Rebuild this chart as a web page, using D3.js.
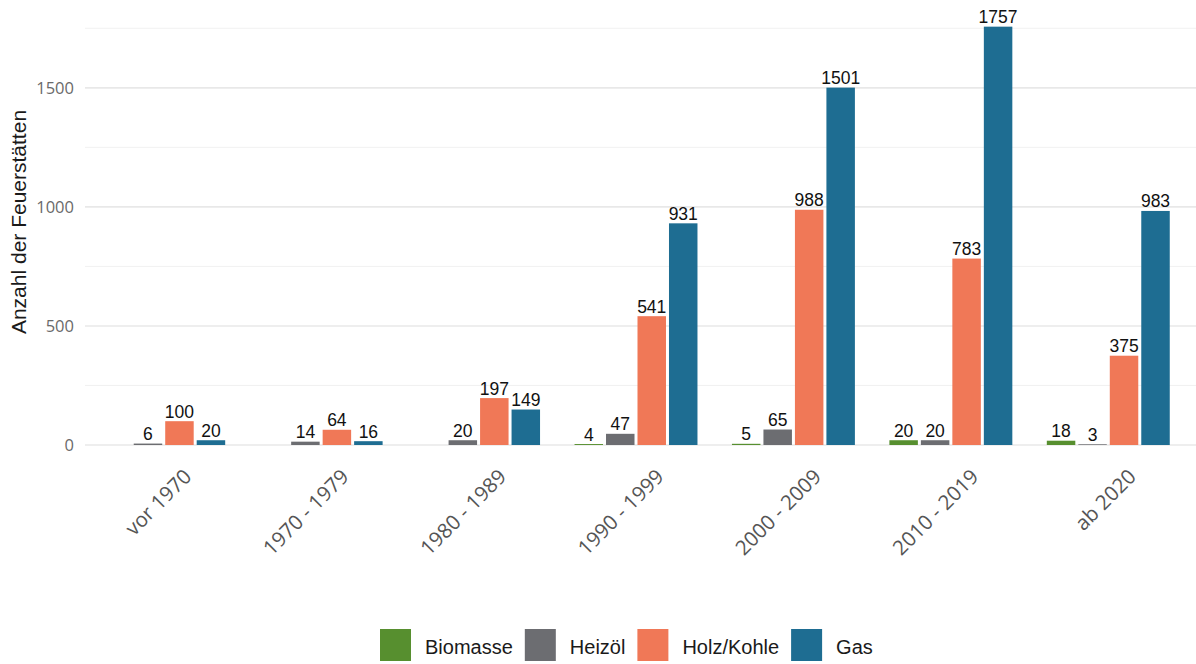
<!DOCTYPE html>
<html>
<head>
<meta charset="utf-8">
<script src="https://cdn.jsdelivr.net/npm/d3@7"></script>
<style>
  body { margin: 0; background: #fff; }
  svg { display: block; }
</style>
</head>
<body>
<div id="paper"></div>
<script>
// data
var periods = ['vor 1970', '1970 - 1979', '1980 - 1989', '1990 - 1999', '2000 - 2009', '2010 - 2019', 'ab 2020']
var fuels = ['Biomasse', 'Heizöl', 'Holz/Kohle', 'Gas']
var biomasse = [0, 0, 0, 4, 5, 20, 18]
var heizoel = [6, 14, 20, 47, 65, 20, 3]
var holzKohle = [100, 64, 197, 541, 988, 783, 375]
var gas = [20, 16, 149, 931, 1501, 1757, 983]
var colors = ['#578f2f', '#6c6d71', '#f07857', '#1e6d92']
var majorTicks = [0, 500, 1000, 1500]
var minorTicks = [250, 750, 1250, 1750]

var series = [biomasse, heizoel, holzKohle, gas]

var width = 1196, height = 664
var svg = d3.select('#paper')
    .append('svg')
    .attr('width', width)
    .attr('height', height)

var x = d3.scaleBand().domain(periods).range([85, 1187])
var sub = d3.scaleBand().domain(fuels).range([x.bandwidth() * 0.1, x.bandwidth() * 0.9])
var y = d3.scaleLinear().domain([0, 1757 * 1.05]).range([445, 445 - 1757 * 1.05 * 0.2381])

// grid
svg.append('g').selectAll('line.minor')
    .data(minorTicks)
    .join('line')
    .attr('x1', 85).attr('x2', width)
    .attr('y1', d => y(d)).attr('y2', d => y(d))
    .attr('stroke', '#ededed').attr('stroke-width', 0.8)

svg.append('g').selectAll('line.major')
    .data(majorTicks)
    .join('line')
    .attr('x1', 85).attr('x2', width)
    .attr('y1', d => y(d)).attr('y2', d => y(d))
    .attr('stroke', '#e8e8e8').attr('stroke-width', 1.6)

// y axis labels
var yAxis = d3.axisLeft(y).tickValues(majorTicks).tickSize(0).tickPadding(0).tickFormat(d3.format('d'))
var gy = svg.append('g').attr('transform', 'translate(74,0)').call(yAxis)
gy.select('.domain').remove()
gy.selectAll('text')
    .attr('fill', '#6a6a6a')
    .style('font-family', 'Open Sans')
    .style('font-size', '16.5px')

svg.append('text')
    .attr('transform', 'translate(26,222) rotate(-90)')
    .attr('text-anchor', 'middle')
    .style('font-family', 'Liberation Sans')
    .style('font-size', '21px')
    .attr('fill', '#1a1a1a')
    .text('Anzahl der Feuerstätten')

// bars
var rows = []
periods.forEach(function(p, i) {
    fuels.forEach(function(f, j) {
        rows.push({period: p, fuel: f, value: series[j][i], color: colors[j]})
    })
})

var groups = svg.append('g')
groups.selectAll('rect')
    .data(rows)
    .join('rect')
    .attr('x', d => x(d.period) + sub(d.fuel) + 1.5)
    .attr('width', sub.bandwidth() - 3)
    .attr('y', d => y(d.value))
    .attr('height', d => y(0) - y(d.value))
    .attr('fill', d => d.color)

groups.selectAll('text')
    .data(rows.filter(d => d.value > 0))
    .join('text')
    .attr('x', d => x(d.period) + sub(d.fuel) + sub.bandwidth() / 2)
    .attr('y', d => y(d.value) - 3.5)
    .attr('text-anchor', 'middle')
    .style('font-family', 'Liberation Sans')
    .style('font-size', '17.5px')
    .attr('fill', '#111')
    .text(d => d.value)

// x axis labels
svg.append('g').selectAll('text')
    .data(periods)
    .join('text')
    .attr('transform', d => 'translate(' + (x(d) + x.bandwidth() / 2 + 29) + ',478) rotate(-45)')
    .attr('text-anchor', 'end')
    .style('font-family', 'Open Sans')
    .style('font-size', '20.5px')
    .attr('fill', '#555')
    .text(d => d)

// legend
var legend = svg.append('g')
var lx = 380
fuels.forEach(function(f, j) {
    legend.append('rect')
        .attr('x', lx).attr('y', 629)
        .attr('width', 31).attr('height', 32)
        .attr('fill', colors[j])
    var t = legend.append('text')
        .attr('x', lx + 45).attr('y', 654)
        .style('font-family', 'Liberation Sans')
        .style('font-size', '20px')
        .attr('fill', '#1a1a1a')
        .text(f)
    lx = lx + 45 + t.node().getComputedTextLength() + 12
})
</script>
</body>
</html>
